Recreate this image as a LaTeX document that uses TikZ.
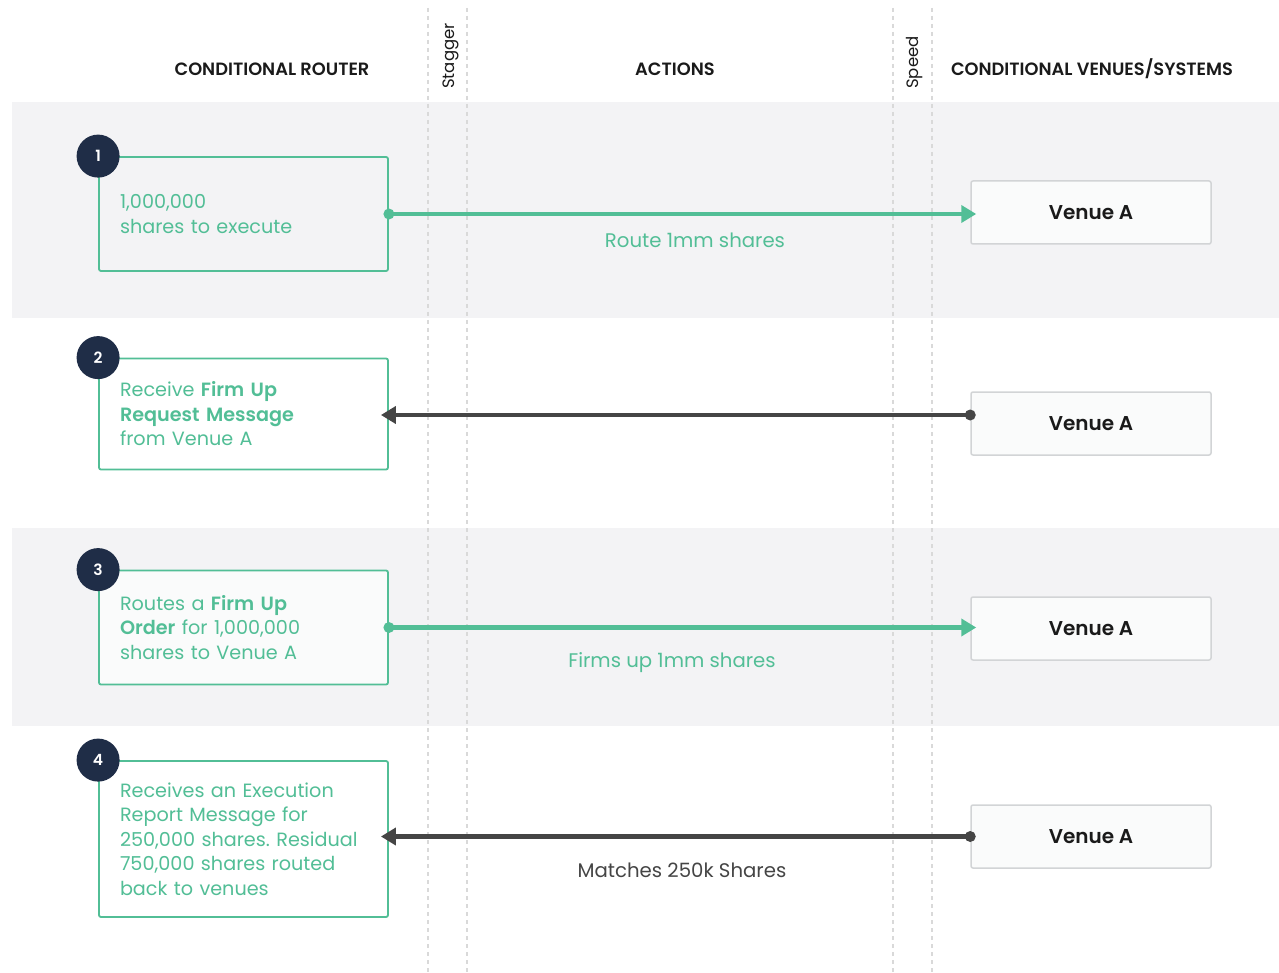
\documentclass[tikz,border=0pt]{standalone}
\usepackage{fontspec}
\setmainfont{Poppins}[BoldFont={Poppins SemiBold}]
\frenchspacing
\usetikzlibrary{arrows.meta}
\definecolor{flowgreen}{HTML}{52BE96}
\definecolor{badgenavy}{HTML}{1F2D47}
\definecolor{bandgray}{HTML}{F3F3F5}
\definecolor{venuefill}{HTML}{FAFBFB}
\definecolor{venueline}{HTML}{D2D4D6}
\definecolor{guidegray}{HTML}{D9D9D9}
\definecolor{returnink}{HTML}{454545}
\definecolor{headink}{HTML}{1A1A1A}

\begin{document}
\begin{tikzpicture}[
  x=1pt,
  y=-1pt,
  every node/.style={headink},
  header/.style={font=\fontsize{17.8}{20}\selectfont\bfseries, anchor=center},
  lanetag/.style={font=\fontsize{16.5}{19}\selectfont, rotate=90, anchor=west,
                  inner sep=0pt},
  guide/.style={guidegray, line width=1.3pt, dash pattern=on 4pt off 4pt},
  band/.style={fill=bandgray, draw=none},
  routerbox/.style={draw=flowgreen, line width=1.8pt, rounded corners=2pt,
                    minimum width=289, text width=247, inner xsep=21,
                    align=left, flowgreen,
                    font=\fontsize{19.2}{24.5}\selectfont},
  badge/.style={circle, fill=badgenavy, minimum size=43, inner sep=0pt,
                text=white, font=\fontsize{15.5}{15.5}\selectfont\bfseries},
  venuebox/.style={draw=venueline, fill=venuefill, line width=1.5pt,
                   rounded corners=2pt, minimum width=240, minimum height=63,
                   font=\fontsize{20}{22}\selectfont\bfseries},
  sendarrow/.style={flowgreen, line width=4.2pt,
                    -{Triangle[length=15pt, width=17pt]}},
  backarrow/.style={returnink, line width=4.2pt,
                    -{Triangle[length=15pt, width=17pt]}},
  arrowlabel/.style={font=\fontsize{19.7}{22}\selectfont, anchor=center}
]
  \useasboundingbox[fill=white] (0,0) rectangle (1279,973);

  %% ---- bands -------------------------------------------------------------
  \fill[band] (12,102) rectangle (1279,318);
  \fill[band] (12,528) rectangle (1279,726);

  %% ---- lane guides -------------------------------------------------------
  \foreach \g in {428,467,893,932}
    \draw[guide] (\g,8) -- (\g,973);

  %% ---- headers -----------------------------------------------------------
  \node[header] (hrouter) at (272,69) {CONDITIONAL ROUTER};
  \node[header] (hactions) at (675,69) {ACTIONS};
  \node[header] (hvenues) at (1092,69) {CONDITIONAL VENUES/SYSTEMS};
  \node[lanetag] (stagger) at (451,89) {Stagger};
  \node[lanetag] (speed) at (915,89) {Speed};

  %% ---- router steps ------------------------------------------------------
  \node[routerbox, minimum height=114, fill=bandgray] (r1) at (243.5,214)
    {1,000,000\\shares to execute};
  \node[routerbox, minimum height=111, fill=white] (r2) at (243.5,414)
    {Receive \textbf{Firm Up}\\\textbf{Request Message}\\from Venue A};
  \node[routerbox, minimum height=114, fill=venuefill] (r3) at (243.5,627.5)
    {Routes a \textbf{Firm Up}\\\textbf{Order} for 1,000,000\\shares to Venue A};
  \node[routerbox, minimum height=156, fill=white] (r4) at (243.5,839)
    {Receives an Execution\\Report Message for\\250,000 shares. Residual\\750,000 shares routed\\back to venues};

  \foreach \s in {1,2,3,4}
    \node[badge] (b\s) at (r\s.north west) {\s};

  %% ---- venues ------------------------------------------------------------
  \node[venuebox] (v1) at (1091,212.5) {Venue A};
  \node[venuebox] (v2) at (1091,423.5) {Venue A};
  \node[venuebox] (v3) at (1091,628.5) {Venue A};
  \node[venuebox] (v4) at (1091,836.5) {Venue A};

  %% ---- messages ----------------------------------------------------------
  \draw[sendarrow] (r1.east) -- ([xshift=6pt]r1.east -| v1.west);
  \fill[flowgreen] (r1.east) circle (5.5);
  \node[arrowlabel, flowgreen] (l1) at (695,240) {Route 1mm shares};

  \draw[backarrow] ([yshift=-1pt]r2.east -| v2.west) -- ([shift={(-8pt,-1pt)}]r2.east);
  \fill[returnink] ([yshift=-1pt]r2.east -| v2.west) circle (5.5);

  \draw[sendarrow] (r3.east) -- ([xshift=6pt]r3.east -| v3.west);
  \fill[flowgreen] (r3.east) circle (5.5);
  \node[arrowlabel, flowgreen] (l3) at (672,663) {Firms up 1mm shares};

  \draw[backarrow] (v4.west) -- ([xshift=-8pt]v4.west -| r4.east);
  \fill[returnink] (v4.west) circle (5.5);
  \node[arrowlabel, returnink] (l4) at (682,870) {Matches 250k Shares};
\end{tikzpicture}
\end{document}
